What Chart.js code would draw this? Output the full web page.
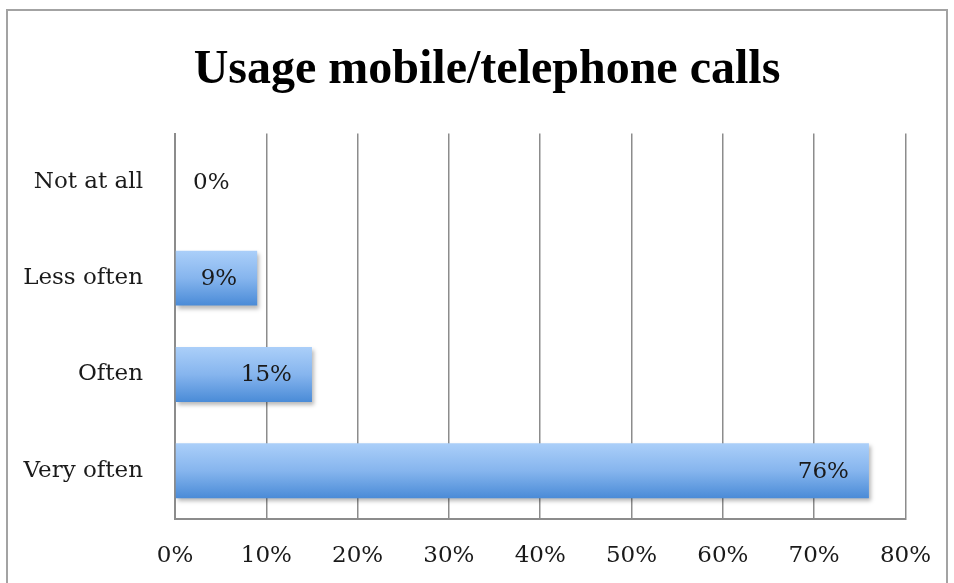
<!DOCTYPE html>
<html>
<head>
<meta charset="utf-8">
<script src="https://cdn.jsdelivr.net/npm/chart.js@4/dist/chart.umd.min.js"></script>
<style>
  html, body { margin: 0; padding: 0; background: #fff; }
  #wrap { position: relative; width: 954px; height: 583px; overflow: hidden; }
  #frame { position: absolute; left: 6px; top: 9px; width: 942px; height: 620px; border: 2px solid #a3a3a3; box-sizing: border-box; }
  canvas { position: absolute; left: 0; top: 0; }
</style>
</head>
<body>
<div id="wrap">
  <div id="frame"></div>
  <canvas id="usageChart" width="954" height="583"></canvas>
</div>
<script>
  const categories = ['Not at all', 'Less often', 'Often', 'Very often'];
  const shares = [0, 9, 15, 76];
  const xTicks = [0, 10, 20, 30, 40, 50, 60, 70, 80];

  const titleFont = '"Liberation Serif", "Times New Roman", serif';
  const labelFont = '"DejaVu Serif", Cambria, serif';
  const barPct = 0.57;

  // vertical gradient per bar, light on top, darker below
  function barFill(context) {
    const chart = context.chart;
    const area = chart.chartArea;
    const y = chart.scales.y;
    if (!area || !y) return '#7fb0ea';
    const band = (area.bottom - area.top) / categories.length;
    const mid = y.getPixelForValue(context.dataIndex);
    const half = band * barPct / 2;
    const g = chart.ctx.createLinearGradient(0, mid - half, 0, mid + half);
    g.addColorStop(0, '#abcff9');
    g.addColorStop(0.5, '#86b5ee');
    g.addColorStop(1, '#4a8bd7');
    return g;
  }

  const barShadow = {
    id: 'barShadow',
    beforeDatasetsDraw(chart) {
      const ctx = chart.ctx;
      ctx.save();
      ctx.shadowColor = 'rgba(0,0,0,0.28)';
      ctx.shadowBlur = 4;
      ctx.shadowOffsetX = 2;
      ctx.shadowOffsetY = 3;
    },
    afterDatasetsDraw(chart) {
      chart.ctx.restore();
    }
  };

  const valueLabels = {
    id: 'valueLabels',
    afterDraw(chart) {
      const ctx = chart.ctx;
      const meta = chart.getDatasetMeta(0);
      ctx.save();
      ctx.font = '23px ' + labelFont;
      ctx.fillStyle = '#1a1a1a';
      ctx.textAlign = 'right';
      ctx.textBaseline = 'middle';
      meta.data.forEach((bar, i) => {
        const txt = shares[i] + '%';
        const w = ctx.measureText(txt).width;
        const x = Math.max(bar.x - 20, bar.base + 18 + w);
        ctx.fillText(txt, x, bar.y + 1);
      });
      ctx.restore();
    }
  };

  new Chart(document.getElementById('usageChart'), {
    type: 'bar',
    data: {
      labels: categories,
      datasets: [{
        data: shares,
        backgroundColor: barFill,
        borderWidth: 0,
        barPercentage: barPct,
        categoryPercentage: 1
      }]
    },
    plugins: [barShadow, valueLabels],
    options: {
      indexAxis: 'y',
      responsive: false,
      animation: false,
      layout: { padding: { left: 20, right: 0, top: 0, bottom: 0 } },
      plugins: {
        legend: { display: false },
        tooltip: { enabled: false },
        title: {
          display: true,
          text: 'Usage mobile/telephone calls',
          color: '#000',
          font: { family: titleFont, size: 48, weight: 'bold' },
          padding: { top: 42, bottom: 34 }
        }
      },
      scales: {
        x: {
          min: 0,
          max: 80,
          afterBuildTicks(scale) {
            scale.ticks = xTicks.map(v => ({ value: v }));
          },
          afterFit(scale) { scale.height = 64; },
          grid: { color: '#8c8c8c', lineWidth: 1.5, drawTicks: false },
          border: { color: '#8c8c8c', width: 2 },
          ticks: {
            padding: 23,
            color: '#1a1a1a',
            font: { family: labelFont, size: 23 },
            callback: v => v + '%'
          }
        },
        y: {
          afterFit(scale) { scale.width = 155; },
          grid: { display: false, drawTicks: false },
          border: { color: '#8c8c8c', width: 2 },
          ticks: {
            padding: 32,
            color: '#1a1a1a',
            font: { family: labelFont, size: 23 }
          }
        },
        // empty spacer on the right so the title centres like the original
        spacer: {
          type: 'linear',
          position: 'right',
          afterFit(scale) { scale.width = 47; },
          grid: { display: false, drawTicks: false },
          border: { display: false },
          ticks: { display: false }
        }
      }
    }
  });
</script>
</body>
</html>
